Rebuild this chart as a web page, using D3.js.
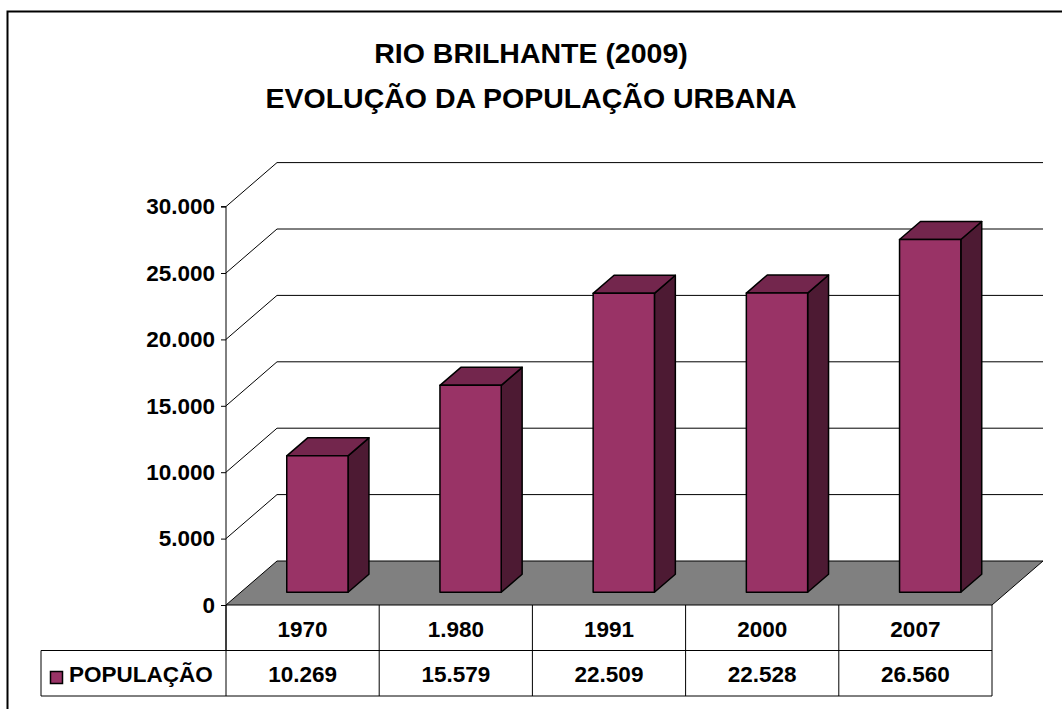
<!DOCTYPE html>
<html>
<head>
<meta charset="utf-8">
<script src="https://cdn.jsdelivr.net/npm/d3@7"></script>
<style>
  body { margin: 0; background: #fff; }
  text { font-family: "Liberation Sans", Arial, sans-serif; font-weight: bold; fill: #000; }
</style>
</head>
<body>
<div id="chart"></div>
<script>
// data
const titleLines = ['RIO BRILHANTE (2009)', 'EVOLUÇÃO DA POPULAÇÃO URBANA']
const categories = ['1970', '1.980', '1991', '2000', '2007']
const values = [10269, 15579, 22509, 22528, 26560]
const valueLabels = ['10.269', '15.579', '22.509', '22.528', '26.560']
const seriesName = 'POPULAÇÃO'
const yTicks = [0, 5000, 10000, 15000, 20000, 25000, 30000]

// dimensions
const w = 1062
const h = 709
const pLeft = 226
const pRight = 992
const pBottom = 605
const pTop = 206.6
const dx = 51      // depth offset
const dy = -44
const z0 = 0.29    // bar depth start / end (fraction of depth)
const z1 = 0.70
const barFrac = 0.40
const rowH = 45.5
const fs = '22.5px'

const svg = d3.select('#chart')
    .append('svg')
    .attr('width', w)
    .attr('height', h)

// outer frame
svg.append('rect')
    .attr('x', 7.5).attr('y', 11.5)
    .attr('width', 1080).attr('height', 720)
    .attr('fill', 'none')
    .attr('stroke', '#000')
    .attr('stroke-width', 2)

// title
svg.selectAll('.title')
    .data(titleLines)
    .enter()
    .append('text')
    .attr('class', 'title')
    .attr('x', 531)
    .attr('y', (d, i) => 63 + i * 45)
    .attr('text-anchor', 'middle')
    .style('font-size', '28.5px')
    .text(d => d)

// scales
const x = d3.scaleBand()
    .domain(categories)
    .range([pLeft, pRight])

const y = d3.scaleLinear()
    .domain([0, 30000])
    .range([pBottom, pTop])

// project a point at depth z
const px = (sx, z) => sx + z * dx
const py = (sy, z) => sy + z * dy

// floor
svg.append('path')
    .attr('d', `M${pLeft},${pBottom}L${pRight},${pBottom}L${pRight + dx},${pBottom + dy}L${pLeft + dx},${pBottom + dy}Z`)
    .attr('fill', '#808080')
    .attr('stroke', '#000')
    .attr('stroke-width', 1)

// grid lines (back wall + side wall)
const grid = svg.append('g')
grid.selectAll('line.back')
    .data(yTicks.filter(d => d > 0))
    .enter()
    .append('line')
    .attr('x1', pLeft + dx).attr('x2', pRight + dx)
    .attr('y1', d => y(d) + dy).attr('y2', d => y(d) + dy)
    .attr('stroke', '#000')
grid.selectAll('line.side')
    .data(yTicks.filter(d => d > 0))
    .enter()
    .append('line')
    .attr('x1', pLeft).attr('x2', pLeft + dx)
    .attr('y1', d => y(d)).attr('y2', d => y(d) + dy)
    .attr('stroke', '#000')

// y axis
const yAxis = d3.axisLeft(y)
    .tickValues(yTicks)
    .tickSize(5)
    .tickPadding(6)
    .tickFormat(d => d3.format(',')(d).replace(/,/g, '.'))

const yg = svg.append('g')
    .attr('transform', `translate(${pLeft},0)`)
    .call(yAxis)
yg.select('.domain').attr('d', `M-5,${pTop}H0V${pBottom + rowH}`).attr('stroke', '#000')
yg.selectAll('.tick line').attr('stroke', '#000')
yg.selectAll('text')
    .style('font-size', fs)
    .style('font-family', '"Liberation Sans", Arial, sans-serif')
    .attr('fill', '#000')

// bars
const bw = x.bandwidth() * barFrac
const bars = svg.selectAll('.bar')
    .data(categories.map((c, i) => ({ c, v: values[i] })))
    .enter()
    .append('g')
    .attr('class', 'bar')
    .attr('stroke', '#000')
    .attr('stroke-width', 1.5)
    .attr('stroke-linejoin', 'round')

bars.each(function (d) {
    const g = d3.select(this)
    const xl = x(d.c) + (x.bandwidth() - bw) / 2
    const xr = xl + bw
    const yt = y(d.v)
    const yb = y(0)
    // side face
    g.append('path')
        .attr('d', `M${px(xr, z0)},${py(yb, z0)}L${px(xr, z1)},${py(yb, z1)}L${px(xr, z1)},${py(yt, z1)}L${px(xr, z0)},${py(yt, z0)}Z`)
        .attr('fill', '#4d1a33')
    // top face
    g.append('path')
        .attr('d', `M${px(xl, z0)},${py(yt, z0)}L${px(xr, z0)},${py(yt, z0)}L${px(xr, z1)},${py(yt, z1)}L${px(xl, z1)},${py(yt, z1)}Z`)
        .attr('fill', '#73264d')
    // front face
    g.append('rect')
        .attr('x', px(xl, z0))
        .attr('y', py(yt, z0))
        .attr('width', bw)
        .attr('height', yb - yt)
        .attr('fill', '#993366')
})

// data table
const table = svg.append('g')
    .attr('stroke', '#000')
    .attr('stroke-width', 1)
table.append('line')
    .attr('x1', 41).attr('x2', pRight)
    .attr('y1', pBottom + rowH).attr('y2', pBottom + rowH)
table.append('line')
    .attr('x1', 41).attr('x2', pRight)
    .attr('y1', pBottom + rowH * 2).attr('y2', pBottom + rowH * 2)
table.append('line')
    .attr('x1', 41).attr('x2', 41)
    .attr('y1', pBottom + rowH).attr('y2', pBottom + rowH * 2)
table.selectAll('line.col')
    .data(categories.slice(1).concat(['end']))
    .enter()
    .append('line')
    .attr('x1', d => d === 'end' ? pRight : x(d))
    .attr('x2', d => d === 'end' ? pRight : x(d))
    .attr('y1', pBottom).attr('y2', pBottom + rowH * 2)
table.append('line')
    .attr('x1', pLeft).attr('x2', pLeft)
    .attr('y1', pBottom).attr('y2', pBottom + rowH * 2)

svg.selectAll('.cat')
    .data(categories)
    .enter()
    .append('text')
    .attr('x', d => x(d) + x.bandwidth() / 2)
    .attr('y', pBottom + rowH / 2 + 9)
    .attr('text-anchor', 'middle')
    .style('font-size', fs)
    .text(d => d)

svg.selectAll('.val')
    .data(valueLabels)
    .enter()
    .append('text')
    .attr('x', (d, i) => x(categories[i]) + x.bandwidth() / 2)
    .attr('y', pBottom + rowH * 1.5 + 9)
    .attr('text-anchor', 'middle')
    .style('font-size', fs)
    .text(d => d)

// legend key
svg.append('rect')
    .attr('x', 50.5).attr('y', 671.5)
    .attr('width', 12).attr('height', 12)
    .attr('fill', '#993366')
    .attr('stroke', '#000')
    .attr('stroke-width', 1.5)
svg.append('text')
    .attr('x', 69)
    .attr('y', pBottom + rowH * 1.5 + 9)
    .style('font-size', fs)
    .text(seriesName)
</script>
</body>
</html>
